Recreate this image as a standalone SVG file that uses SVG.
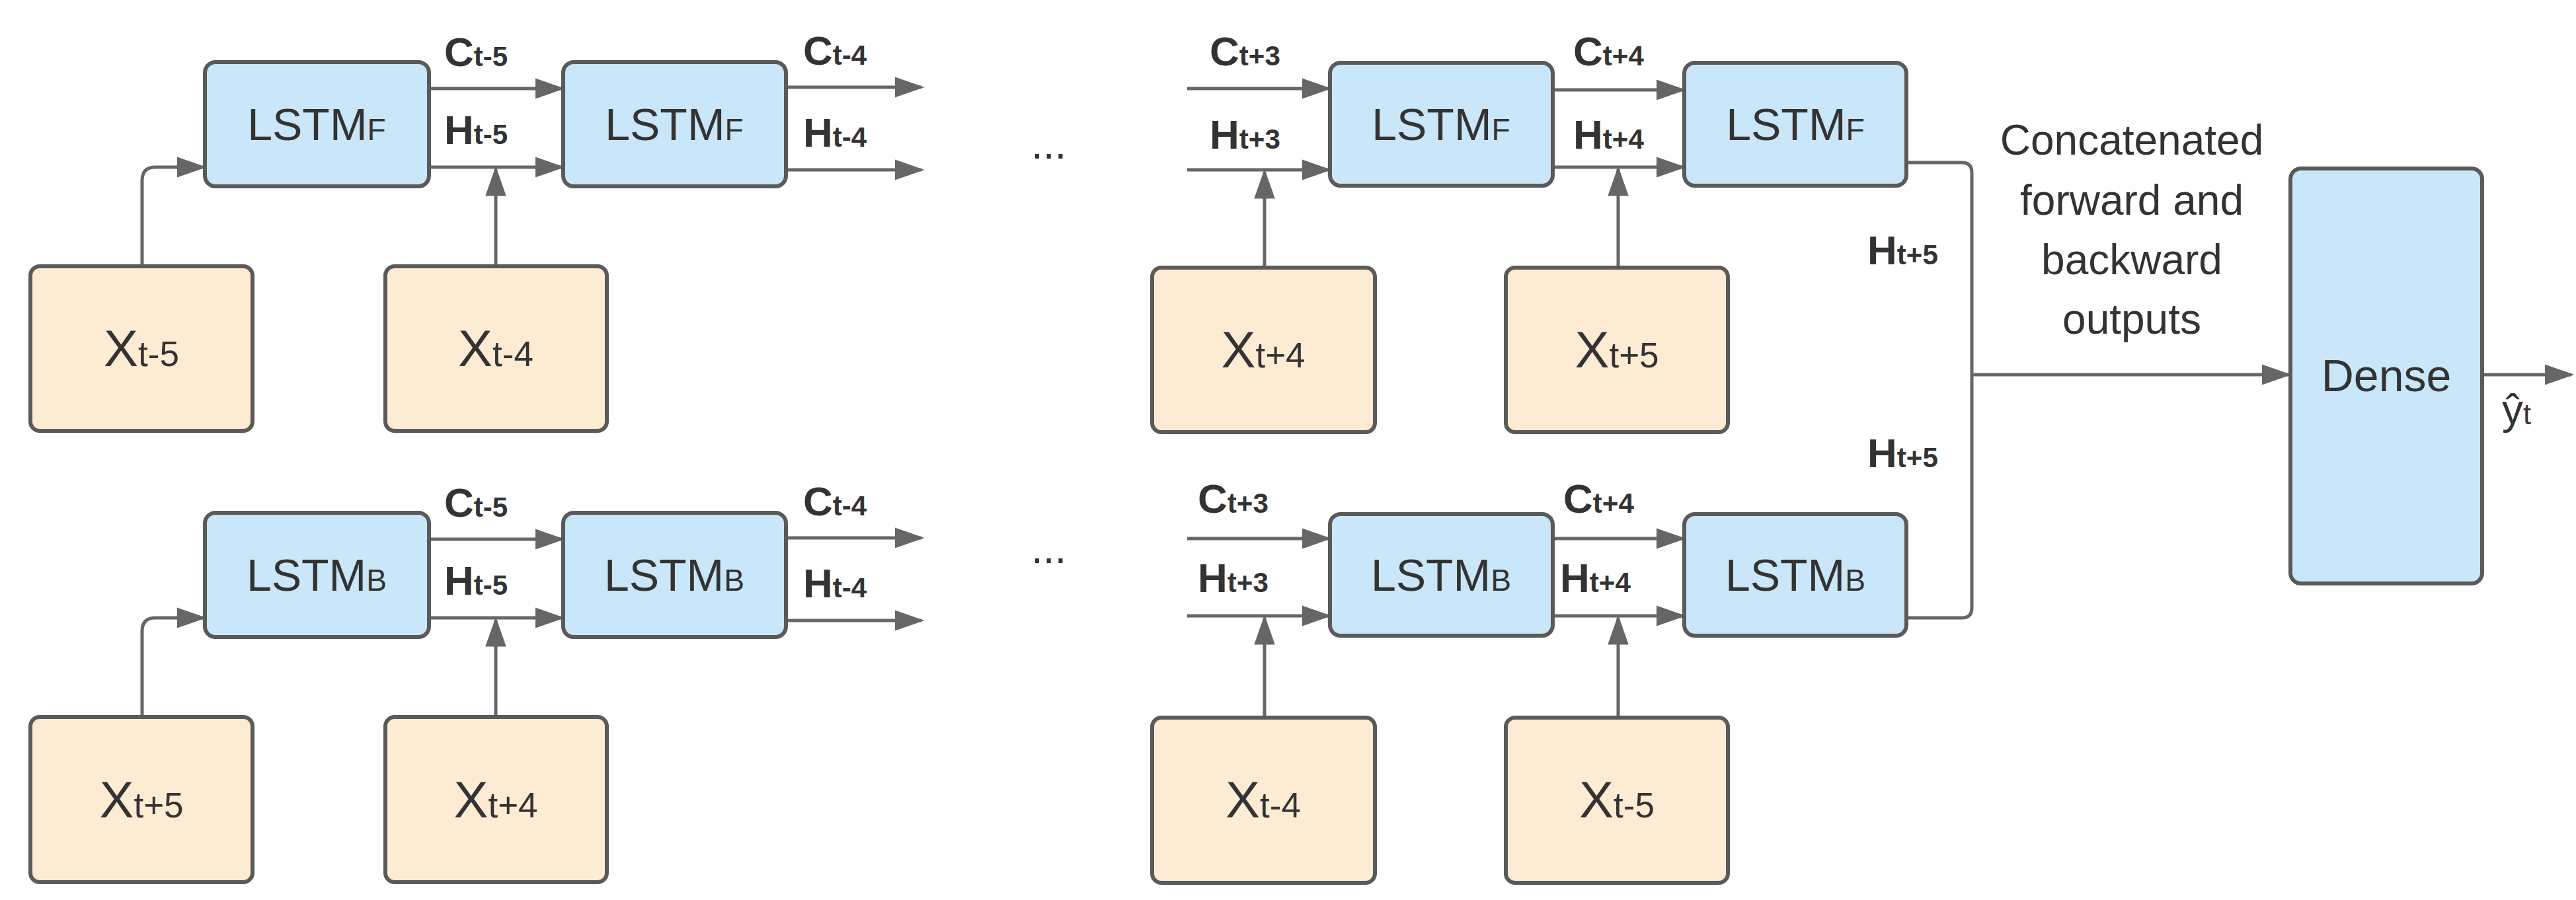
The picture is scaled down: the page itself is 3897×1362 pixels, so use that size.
<svg xmlns="http://www.w3.org/2000/svg" width="3897" height="1362" viewBox="0 0 3897 1362">
<style>
.l{fill:#c9e7f8;stroke:#5a5a5a;stroke-width:6}
.x{fill:#fdebd3;stroke:#5a5a5a;stroke-width:6}
.t{font-family:"Liberation Sans",Arial,sans-serif;fill:#333}
.n{font-size:68px}
.c2{font-size:64px}
.xl{font-size:78px}
.b{font-size:62px;font-weight:bold}
.s{font-size:0.68em}
.c{fill:none;stroke:#666;stroke-width:5}
</style>
<defs>
<marker id="m" viewBox="0 0 10 10" refX="9" refY="5" markerWidth="9" markerHeight="9" orient="auto"><path d="M0,1.5L10,5L0,8.5z" fill="#666"/></marker></defs>
<g id="connectors" class="c" marker-end="url(#m)">
<path d="M215,403V273q0,-20 20,-20H308"/>
<path d="M649,134H850"/><path d="M649,253H850"/><path d="M750,403V256"/>
<path d="M1189,132H1394"/><path d="M1189,257H1394"/>
<path d="M1796,134H2010"/><path d="M1796,257H2010"/><path d="M1913,403V260"/>
<path d="M2349,136H2546"/><path d="M2349,253H2546"/><path d="M2448,403V256"/>
<path d="M215,1085V955q0,-20 20,-20H308"/>
<path d="M649,816H850"/><path d="M649,935H850"/><path d="M750,1085V938"/>
<path d="M1189,814H1394"/><path d="M1189,939H1394"/>
<path d="M1796,815H2010"/><path d="M1796,932H2010"/><path d="M1913,1085V935"/>
<path d="M2349,815H2546"/><path d="M2349,932H2546"/><path d="M2448,1085V935"/>
<path d="M2884,246H2968q15,0 15,15V567" marker-end="none"/>
<path d="M2884,935H2968q15,0 15,-15V567" marker-end="none"/>
<path d="M2983,567H3462"/><path d="M3755,567H3890"/>
</g>
<g id="f1"><rect class="l" x="310" y="94" width="339" height="188" rx="16"/><text class="t n" x="479" y="212" text-anchor="middle">LSTM<tspan class="s">F</tspan></text></g>
<g id="f2"><rect class="l" x="852" y="94" width="337" height="188" rx="16"/><text class="t n" x="1020" y="212" text-anchor="middle">LSTM<tspan class="s">F</tspan></text></g>
<g id="f3"><rect class="l" x="2012" y="95" width="337" height="186" rx="16"/><text class="t n" x="2180" y="212" text-anchor="middle">LSTM<tspan class="s">F</tspan></text></g>
<g id="f4"><rect class="l" x="2548" y="95" width="336" height="186" rx="16"/><text class="t n" x="2716" y="212" text-anchor="middle">LSTM<tspan class="s">F</tspan></text></g>
<g id="b1"><rect class="l" x="310" y="776" width="339" height="188" rx="16"/><text class="t n" x="479" y="894" text-anchor="middle">LSTM<tspan class="s">B</tspan></text></g>
<g id="b2"><rect class="l" x="852" y="776" width="337" height="188" rx="16"/><text class="t n" x="1020" y="894" text-anchor="middle">LSTM<tspan class="s">B</tspan></text></g>
<g id="b3"><rect class="l" x="2012" y="778" width="337" height="184" rx="16"/><text class="t n" x="2180" y="894" text-anchor="middle">LSTM<tspan class="s">B</tspan></text></g>
<g id="b4"><rect class="l" x="2548" y="778" width="336" height="184" rx="16"/><text class="t n" x="2716" y="894" text-anchor="middle">LSTM<tspan class="s">B</tspan></text></g>
<g id="x1"><rect class="x" x="46" y="403" width="336" height="249" rx="14"/><text class="t xl" x="214" y="554" text-anchor="middle">X<tspan class="s">t-5</tspan></text></g>
<g id="x2"><rect class="x" x="583" y="403" width="335" height="249" rx="14"/><text class="t xl" x="750" y="554" text-anchor="middle">X<tspan class="s">t-4</tspan></text></g>
<g id="x3"><rect class="x" x="1743" y="405" width="337" height="249" rx="14"/><text class="t xl" x="1911" y="556" text-anchor="middle">X<tspan class="s">t+4</tspan></text></g>
<g id="x4"><rect class="x" x="2278" y="405" width="336" height="249" rx="14"/><text class="t xl" x="2446" y="556" text-anchor="middle">X<tspan class="s">t+5</tspan></text></g>
<g id="x5"><rect class="x" x="46" y="1085" width="336" height="250" rx="14"/><text class="t xl" x="214" y="1237" text-anchor="middle">X<tspan class="s">t+5</tspan></text></g>
<g id="x6"><rect class="x" x="583" y="1085" width="335" height="250" rx="14"/><text class="t xl" x="750" y="1237" text-anchor="middle">X<tspan class="s">t+4</tspan></text></g>
<g id="x7"><rect class="x" x="1743" y="1086" width="337" height="250" rx="14"/><text class="t xl" x="1911" y="1237" text-anchor="middle">X<tspan class="s">t-4</tspan></text></g>
<g id="x8"><rect class="x" x="2278" y="1086" width="336" height="250" rx="14"/><text class="t xl" x="2446" y="1237" text-anchor="middle">X<tspan class="s">t-5</tspan></text></g>
<g id="dense"><rect class="l" x="3465" y="255" width="290" height="628" rx="16"/><text class="t n" x="3610" y="592" text-anchor="middle">Dense</text></g>
<g id="labels" class="t">
<text class="b" x="672" y="100">C<tspan class="s">t-5</tspan></text>
<text class="b" x="672" y="218">H<tspan class="s">t-5</tspan></text>
<text class="b" x="1215" y="98">C<tspan class="s">t-4</tspan></text>
<text class="b" x="1215" y="222">H<tspan class="s">t-4</tspan></text>
<text class="b" x="672" y="782">C<tspan class="s">t-5</tspan></text>
<text class="b" x="672" y="900">H<tspan class="s">t-5</tspan></text>
<text class="b" x="1215" y="780">C<tspan class="s">t-4</tspan></text>
<text class="b" x="1215" y="904">H<tspan class="s">t-4</tspan></text>
<text class="b" x="1830" y="99">C<tspan class="s">t+3</tspan></text>
<text class="b" x="1830" y="225">H<tspan class="s">t+3</tspan></text>
<text class="b" x="2380" y="99">C<tspan class="s">t+4</tspan></text>
<text class="b" x="2380" y="225">H<tspan class="s">t+4</tspan></text>
<text class="b" x="1812" y="776">C<tspan class="s">t+3</tspan></text>
<text class="b" x="1812" y="896">H<tspan class="s">t+3</tspan></text>
<text class="b" x="2365" y="776">C<tspan class="s">t+4</tspan></text>
<text class="b" x="2360" y="896">H<tspan class="s">t+4</tspan></text>
<text class="b" x="2825" y="400">H<tspan class="s">t+5</tspan></text>
<text class="b" x="2825" y="707">H<tspan class="s">t+5</tspan></text>
<text class="c2" x="1560" y="240">...</text>
<text class="c2" x="1560" y="852">...</text>
<text class="c2" x="3225" y="234" text-anchor="middle">Concatenated</text>
<text class="c2" x="3225" y="325" text-anchor="middle">forward and</text>
<text class="c2" x="3225" y="415" text-anchor="middle">backward</text>
<text class="c2" x="3225" y="505" text-anchor="middle">outputs</text>
<text class="c2" x="3785" y="642">ŷ<tspan class="s">t</tspan></text>
</g>
</svg>
